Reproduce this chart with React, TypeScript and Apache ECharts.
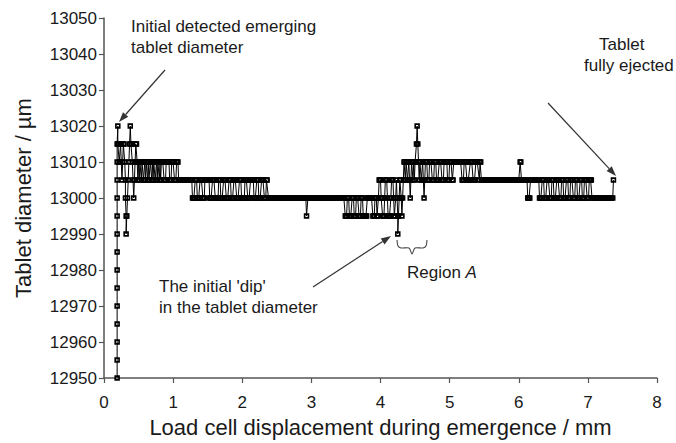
import React, { useEffect, useRef } from "react";
import * as echarts from "echarts";

// ---- Axis settings ----
const xMin = 0;
const xMax = 8;
const xStep = 1;
const yMin = 12950;
const yMax = 13050;
const yStep = 10;

const xTitle = "Load cell displacement during emergence / mm";
const yTitle = "Tablet diameter / µm";

// ---- Data: [displacement mm, diameter µm] ----
const rise = [
  [0.19, 12950], [0.19, 12955], [0.19, 12960], [0.19, 12965], [0.19, 12970],
  [0.19, 12975], [0.19, 12980], [0.19, 12985], [0.19, 12990], [0.19, 12995],
  [0.19, 13000], [0.19, 13005], [0.19, 13010], [0.19, 13015], [0.2, 13020],
];

const early = [
  [0.2, 13015], [0.21, 13015], [0.22, 13010], [0.23, 13010], [0.24, 13015],
  [0.25, 13015], [0.26, 13005], [0.27, 13010], [0.28, 13015], [0.29, 13015],
  [0.3, 13010], [0.31, 13005], [0.31, 13000], [0.32, 12995], [0.32, 12990],
  [0.33, 12995], [0.34, 13000], [0.35, 13005], [0.36, 13010], [0.37, 13015],
  [0.38, 13020], [0.39, 13015], [0.4, 13015], [0.41, 13010], [0.42, 13005],
  [0.43, 13000], [0.44, 13005], [0.45, 13010], [0.46, 13015], [0.47, 13015],
  [0.48, 13010], [0.49, 13005], [0.5, 13010],
];

const settle = [
  [0.51, 13005], [0.52, 13010], [0.53, 13010], [0.54, 13005], [0.55, 13010],
  [0.56, 13010], [0.57, 13005], [0.58, 13005], [0.59, 13010], [0.6, 13005],
  [0.61, 13010], [0.62, 13010], [0.63, 13005], [0.64, 13010], [0.65, 13005],
  [0.66, 13005], [0.67, 13010], [0.68, 13010], [0.69, 13005], [0.7, 13010],
  [0.71, 13005], [0.72, 13010], [0.73, 13010], [0.74, 13005], [0.75, 13005],
  [0.76, 13010], [0.77, 13005], [0.78, 13010], [0.79, 13010], [0.8, 13005],
  [0.81, 13010], [0.82, 13005],
  [0.83, 13010], [0.84, 13010], [0.85, 13010], [0.86, 13010],
  [0.87, 13005], [0.88, 13005], [0.89, 13005],
  [0.9, 13010], [0.91, 13010], [0.92, 13010], [0.93, 13010], [0.94, 13010],
  [0.95, 13005], [0.96, 13005], [0.97, 13005],
  [0.98, 13010], [0.99, 13010], [1.0, 13010], [1.01, 13010],
  [1.02, 13005], [1.03, 13005], [1.04, 13005],
  [1.05, 13010], [1.06, 13010], [1.07, 13010],
  [1.08, 13005], [1.09, 13005],
];

const plateauA = [
  [1.11, 13005], [1.13, 13005], [1.15, 13005], [1.17, 13005], [1.19, 13005],
  [1.21, 13005], [1.23, 13005], [1.25, 13005], [1.27, 13005],
];

const mixA = [
  [1.28, 13000], [1.29, 13000], [1.3, 13000], [1.31, 13000],
  [1.32, 13005], [1.33, 13005], [1.34, 13005],
  [1.35, 13000], [1.36, 13000], [1.37, 13000], [1.38, 13000],
  [1.39, 13005], [1.4, 13005], [1.41, 13005], [1.42, 13005],
  [1.43, 13000], [1.44, 13000], [1.45, 13000],
  [1.46, 13005], [1.47, 13005], [1.48, 13005], [1.49, 13005], [1.5, 13005],
  [1.51, 13005], [1.52, 13005],
];

const mixB = [
  [1.53, 13000], [1.54, 13000], [1.55, 13000], [1.56, 13000],
  [1.57, 13005], [1.58, 13005], [1.59, 13005], [1.6, 13005],
  [1.61, 13000], [1.62, 13000], [1.63, 13000], [1.64, 13000], [1.65, 13000],
  [1.66, 13005], [1.67, 13005], [1.68, 13005],
  [1.69, 13000], [1.7, 13000], [1.71, 13000], [1.72, 13000],
  [1.73, 13005], [1.74, 13005], [1.75, 13005], [1.76, 13005],
  [1.77, 13000], [1.78, 13000], [1.79, 13000], [1.8, 13000],
  [1.81, 13005], [1.82, 13005], [1.83, 13005],
  [1.84, 13000], [1.85, 13000], [1.86, 13000], [1.87, 13000],
  [1.88, 13005], [1.89, 13005], [1.9, 13005], [1.91, 13005],
];

const mixC = [
  [1.92, 13000], [1.93, 13000], [1.94, 13000], [1.95, 13000],
  [1.96, 13005], [1.97, 13005], [1.98, 13005],
  [1.99, 13000], [2.0, 13000], [2.01, 13000], [2.02, 13000], [2.03, 13000],
  [2.04, 13005], [2.05, 13005], [2.06, 13005], [2.07, 13005],
  [2.08, 13000], [2.09, 13000], [2.1, 13000], [2.11, 13000],
  [2.12, 13005], [2.13, 13005], [2.14, 13005], [2.15, 13005], [2.16, 13005],
  [2.17, 13000], [2.18, 13000], [2.19, 13000], [2.2, 13000],
  [2.21, 13005], [2.22, 13005], [2.23, 13005],
  [2.24, 13000], [2.25, 13000], [2.26, 13000], [2.27, 13000],
  [2.28, 13005], [2.29, 13005], [2.3, 13005], [2.31, 13005],
  [2.32, 13000], [2.33, 13000], [2.34, 13000],
  [2.35, 13005], [2.36, 13005],
];

const flat = [
  [2.38, 13000], [2.4, 13000], [2.42, 13000], [2.44, 13000], [2.46, 13000],
  [2.48, 13000], [2.5, 13000], [2.52, 13000], [2.54, 13000], [2.56, 13000],
  [2.58, 13000], [2.6, 13000], [2.62, 13000], [2.64, 13000], [2.66, 13000],
  [2.68, 13000], [2.7, 13000], [2.72, 13000], [2.74, 13000], [2.76, 13000],
  [2.78, 13000], [2.8, 13000], [2.82, 13000], [2.84, 13000], [2.86, 13000],
  [2.88, 13000], [2.9, 13000], [2.92, 13000], [2.93, 12995], [2.95, 13000],
  [2.97, 13000], [2.99, 13000], [3.01, 13000], [3.03, 13000], [3.05, 13000],
  [3.07, 13000], [3.09, 13000], [3.11, 13000], [3.13, 13000], [3.15, 13000],
  [3.17, 13000], [3.19, 13000], [3.21, 13000], [3.23, 13000], [3.25, 13000],
  [3.27, 13000], [3.29, 13000], [3.31, 13000], [3.33, 13000], [3.35, 13000],
  [3.37, 13000], [3.39, 13000], [3.41, 13000], [3.43, 13000], [3.45, 13000],
  [3.47, 13000], [3.48, 13000],
];

const dipZone = [
  [3.49, 12995], [3.5, 12995], [3.51, 12995],
  [3.52, 13000], [3.53, 13000], [3.54, 13000],
  [3.55, 12995], [3.56, 12995], [3.57, 12995], [3.58, 12995],
  [3.59, 13000], [3.6, 13000], [3.61, 13000],
  [3.62, 12995], [3.63, 12995], [3.64, 12995],
  [3.65, 13000], [3.66, 13000], [3.67, 13000], [3.68, 13000],
  [3.69, 12995], [3.7, 12995], [3.71, 12995],
  [3.72, 13000], [3.73, 13000], [3.74, 13000],
  [3.75, 12995], [3.76, 12995], [3.77, 12995], [3.78, 12995], [3.79, 12995], [3.8, 12995],
  [3.81, 13000], [3.82, 13000], [3.83, 13000], [3.84, 13000], [3.85, 13000],
  [3.86, 13000], [3.87, 13000], [3.88, 13000],
];

const preDip = [
  [3.89, 12995], [3.9, 12995], [3.91, 12995],
  [3.92, 13000], [3.93, 13000], [3.94, 13000],
  [3.95, 12995], [3.96, 12995],
  [3.97, 13000], [3.98, 13005], [3.99, 13005], [4.0, 13005],
  [4.01, 13000], [4.02, 13000],
  [4.03, 12995], [4.04, 12995], [4.05, 12995],
  [4.06, 13000], [4.07, 13005], [4.08, 13005], [4.09, 13005],
  [4.1, 13000], [4.11, 12995], [4.12, 12995], [4.13, 12995], [4.14, 12995],
  [4.15, 13000], [4.16, 13005], [4.17, 13005], [4.18, 13005],
  [4.19, 13000], [4.2, 12995], [4.21, 12995], [4.22, 13000], [4.23, 13005],
  [4.24, 13000], [4.25, 12995], [4.25, 12990], [4.26, 12995], [4.27, 13000],
  [4.28, 13005], [4.29, 13005], [4.3, 13000], [4.31, 12995], [4.32, 13000],
  [4.33, 13005],
];

const regionA = [
  [4.34, 13010], [4.35, 13010], [4.36, 13005], [4.37, 13010], [4.38, 13010],
  [4.39, 13005], [4.4, 13005], [4.41, 13010], [4.42, 13005], [4.43, 13000],
  [4.44, 13005], [4.45, 13010], [4.46, 13010], [4.47, 13005], [4.48, 13010],
  [4.49, 13005], [4.5, 13010], [4.51, 13010], [4.52, 13015], [4.53, 13020],
  [4.54, 13015], [4.55, 13010], [4.56, 13005], [4.57, 13010], [4.58, 13010],
  [4.59, 13005], [4.6, 13005], [4.61, 13010], [4.62, 13005], [4.63, 13000],
  [4.64, 13005],
  [4.65, 13010], [4.66, 13010], [4.67, 13010],
  [4.68, 13005], [4.69, 13005], [4.7, 13005],
  [4.71, 13010], [4.72, 13010], [4.73, 13010], [4.74, 13010],
  [4.75, 13005], [4.76, 13005], [4.77, 13005],
  [4.78, 13010], [4.79, 13010], [4.8, 13010],
  [4.81, 13005], [4.82, 13005], [4.83, 13005], [4.84, 13005],
  [4.85, 13010], [4.86, 13010], [4.87, 13010], [4.88, 13010],
  [4.89, 13005], [4.9, 13005], [4.91, 13005],
  [4.92, 13010], [4.93, 13010], [4.94, 13010], [4.95, 13010], [4.96, 13010],
  [4.97, 13005], [4.98, 13005], [4.99, 13005],
  [5.0, 13010], [5.01, 13010], [5.02, 13010], [5.03, 13010],
  [5.04, 13005], [5.05, 13005],
];

const highRun = [
  [5.06, 13010], [5.08, 13010], [5.1, 13010], [5.12, 13010], [5.14, 13010],
  [5.16, 13010],
];

const mixD = [
  [5.18, 13005], [5.19, 13005], [5.2, 13005], [5.21, 13010], [5.22, 13010],
  [5.23, 13010], [5.24, 13010], [5.25, 13005], [5.26, 13005], [5.27, 13005],
  [5.28, 13005], [5.3, 13010], [5.31, 13010], [5.32, 13010], [5.33, 13010],
  [5.34, 13005], [5.35, 13005], [5.36, 13005], [5.37, 13005], [5.38, 13010],
  [5.39, 13010], [5.4, 13010], [5.41, 13010], [5.43, 13005], [5.44, 13010],
  [5.45, 13010], [5.46, 13005], [5.48, 13005],
];

const plateauB = [
  [5.5, 13005], [5.52, 13005], [5.54, 13005], [5.56, 13005], [5.58, 13005],
  [5.6, 13005], [5.62, 13005], [5.64, 13005], [5.66, 13005], [5.68, 13005],
  [5.7, 13005], [5.72, 13005], [5.74, 13005], [5.76, 13005], [5.78, 13005],
  [5.8, 13005], [5.82, 13005], [5.84, 13005], [5.86, 13005], [5.88, 13005],
  [5.9, 13005], [5.92, 13005], [5.94, 13005], [5.96, 13005], [5.98, 13005],
  [6.0, 13005], [6.01, 13005], [6.02, 13010], [6.03, 13010], [6.04, 13005],
  [6.06, 13005],
];

const mixE = [
  [6.08, 13005], [6.1, 13005], [6.12, 13005],
  [6.13, 13000], [6.14, 13000], [6.15, 13000], [6.16, 13000],
  [6.17, 13005], [6.19, 13005], [6.21, 13005], [6.23, 13005], [6.25, 13005],
  [6.27, 13005], [6.29, 13005],
  [6.3, 13000], [6.31, 13000], [6.32, 13000], [6.33, 13000],
  [6.34, 13005], [6.35, 13005], [6.36, 13005],
  [6.37, 13000], [6.38, 13000], [6.39, 13000], [6.4, 13000],
  [6.41, 13005], [6.42, 13005], [6.43, 13005], [6.44, 13005],
  [6.45, 13000], [6.46, 13000], [6.47, 13000],
  [6.48, 13005], [6.49, 13005], [6.5, 13005],
  [6.51, 13000], [6.52, 13000], [6.53, 13000], [6.54, 13000],
  [6.55, 13005], [6.56, 13005], [6.57, 13005], [6.58, 13005],
  [6.59, 13000], [6.6, 13000], [6.61, 13000],
  [6.62, 13005], [6.63, 13005], [6.64, 13005],
  [6.65, 13000], [6.66, 13000], [6.67, 13000], [6.68, 13000],
  [6.69, 13005], [6.7, 13005], [6.71, 13005],
  [6.72, 13000], [6.73, 13000], [6.74, 13000],
  [6.75, 13005], [6.76, 13005], [6.77, 13005], [6.78, 13005],
  [6.79, 13000], [6.8, 13000], [6.81, 13000],
  [6.82, 13005], [6.83, 13005], [6.84, 13005],
  [6.85, 13000], [6.86, 13000], [6.87, 13000], [6.88, 13000],
  [6.89, 13005], [6.9, 13005], [6.91, 13005],
  [6.92, 13000], [6.93, 13000], [6.94, 13000],
  [6.95, 13005], [6.96, 13005], [6.97, 13005], [6.98, 13005],
  [6.99, 13000], [7.0, 13000], [7.01, 13000],
  [7.02, 13005], [7.03, 13005], [7.04, 13005], [7.05, 13005],
  [7.06, 13000],
];

const tail = [
  [7.08, 13000], [7.1, 13000], [7.12, 13000], [7.14, 13000], [7.16, 13000],
  [7.18, 13000], [7.2, 13000], [7.22, 13000], [7.24, 13000], [7.26, 13000],
  [7.28, 13000], [7.3, 13000], [7.32, 13000], [7.34, 13000], [7.36, 13000],
  [7.37, 13005],
];

const diameterSeries = [
  ...rise, ...early, ...settle, ...plateauA, ...mixA, ...mixB, ...mixC,
  ...flat, ...dipZone, ...preDip, ...regionA, ...highRun, ...mixD,
  ...plateauB, ...mixE, ...tail,
];

// ---- Styling ----
const FONT = "'Liberation Sans', Arial, Helvetica, sans-serif";
const TEXT = "#1a1a1a";
const AXIS = "#555";
const ARROW = "#333";
// hollow square marker: outer square minus inner square (transparent centre)
const RING = "path://M0,0H10V10H0Z M3,3V7H7V3Z";

function arrow(x1: number, y1: number, x2: number, y2: number) {
  const head = 10;
  const half = 3.5;
  const dx = x2 - x1;
  const dy = y2 - y1;
  const L = Math.hypot(dx, dy);
  const ux = dx / L;
  const uy = dy / L;
  const bx = x2 - ux * head;
  const by = y2 - uy * head;
  const px = -uy;
  const py = ux;
  return [
    { type: "line", shape: { x1, y1, x2: bx, y2: by }, style: { stroke: ARROW, lineWidth: 1.2 } },
    {
      type: "polygon",
      shape: { points: [[x2, y2], [bx + px * half, by + py * half], [bx - px * half, by - py * half]] },
      style: { fill: ARROW },
    },
  ];
}

function textEl(x: number, y: number, text: string, extra: any = {}) {
  return {
    type: "text",
    x,
    y,
    style: {
      text,
      fill: TEXT,
      fontSize: 17,
      fontFamily: FONT,
      lineHeight: 21,
      verticalAlign: "top",
      align: "left",
      ...extra,
    },
  };
}

export default function App() {
  const ref = useRef<HTMLDivElement>(null);
  useEffect(() => {
    if (!ref.current) return;
    const chart = echarts.init(ref.current, undefined, { renderer: "svg" });
    const option: any = {
      animation: false,
      backgroundColor: "#fff",
      grid: { left: 104, right: 19, top: 18, bottom: 61, containLabel: false },
      xAxis: {
        type: "value",
        min: xMin,
        max: xMax,
        interval: xStep,
        name: xTitle,
        nameLocation: "middle",
        nameGap: 38,
        nameTextStyle: { fontSize: 22, fontFamily: FONT, color: TEXT },
        axisLine: { show: true, lineStyle: { color: AXIS, width: 1.5 } },
        axisTick: { show: true, length: 5, inside: false, lineStyle: { color: AXIS, width: 1.2 } },
        axisLabel: { fontSize: 17, fontFamily: FONT, color: TEXT, margin: 16 },
        splitLine: { show: false },
      },
      yAxis: {
        type: "value",
        min: yMin,
        max: yMax,
        interval: yStep,
        name: yTitle,
        nameLocation: "middle",
        nameGap: 70,
        nameTextStyle: { fontSize: 22, fontFamily: FONT, color: TEXT },
        axisLine: { show: true, lineStyle: { color: AXIS, width: 1.5 } },
        axisTick: { show: true, length: 5, inside: false, lineStyle: { color: AXIS, width: 1.2 } },
        axisLabel: { fontSize: 17, fontFamily: FONT, color: TEXT, margin: 7, formatter: (v: number) => String(v) },
        splitLine: { show: false },
      },
      series: [
        {
          type: "line",
          data: diameterSeries,
          symbol: RING,
          symbolSize: 5.5,
          showAllSymbol: true,
          clip: false,
          lineStyle: { color: "#000", width: 1 },
          itemStyle: { color: "#000", borderWidth: 0 },
          emphasis: { disabled: true },
        },
      ],
      graphic: [
        textEl(131, 16, "Initial detected emerging\ntablet diameter"),
        ...arrow(165, 70, 119, 122),
        textEl(599, 34, "Tablet"),
        textEl(584, 55, "fully ejected"),
        ...arrow(548, 103, 616, 176),
        textEl(159, 276, "The initial 'dip'\nin the tablet diameter"),
        ...arrow(313, 287, 391, 236),
        {
          type: "polyline",
          shape: {
            points: [[397, 240], [398, 246], [401, 248], [409, 248], [412, 254], [415, 248], [423, 248], [426, 246], [427, 240]],
            smooth: 0.3,
          },
          style: { stroke: "#444", lineWidth: 1.1, fill: null },
        },
        {
          type: "text",
          x: 407,
          y: 264,
          style: {
            text: "Region {i|A}",
            fill: TEXT,
            fontSize: 17,
            fontFamily: FONT,
            verticalAlign: "top",
            rich: { i: { fontStyle: "italic", fontSize: 17, fontFamily: FONT, fill: TEXT } },
          },
        },
      ],
    };
    chart.setOption(option);
    return () => chart.dispose();
  }, []);
  return (
    <div
      ref={ref}
      style={{ position: "fixed", left: 0, top: 0, width: 676, height: 443, background: "#fff" }}
    />
  );
}
